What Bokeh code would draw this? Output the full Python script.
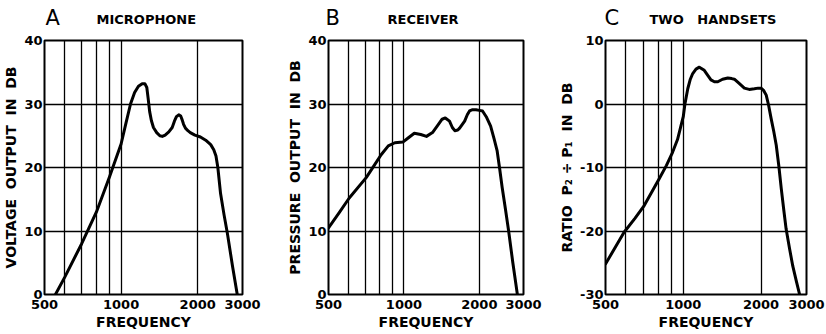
from bokeh.plotting import figure
from bokeh.layouts import row, column
from bokeh.models import FixedTicker, Range1d
from bokeh.core.properties import value
from bokeh.embed import file_html
from bokeh.resources import INLINE

# ---------------- data ----------------
freq_ticks = [500, 1000, 2000, 3000]
freq_grid = [600, 700, 800, 900, 1000, 2000]

freq_a = [552, 600, 700, 800, 900, 1000, 1045, 1089, 1130, 1170, 1210, 1240, 1262,
          1278, 1295, 1315, 1340, 1380, 1420, 1452, 1490, 1540, 1588, 1620, 1650,
          1685, 1715, 1738, 1760, 1790, 1830, 1870, 1950, 2050, 2150, 2250, 2313,
          2360, 2400, 2460, 2540, 2617, 2740, 2861]
db_a = [0, 2.7, 8.0, 13.0, 18.5, 23.7, 27.0, 30.0, 31.8, 32.8, 33.2, 33.2, 32.6,
        30.8, 28.8, 27.4, 26.3, 25.5, 25.0, 24.9, 25.1, 25.6, 26.3, 27.3, 28.0,
        28.3, 28.1, 27.5, 26.8, 26.2, 25.8, 25.5, 25.1, 24.8, 24.3, 23.6, 22.8,
        21.8, 20.0, 15.9, 12.5, 9.6, 4.5, 0]

freq_b = [500, 550, 605, 707, 760, 811, 866, 920, 990, 1036, 1100, 1167, 1230,
          1300, 1357, 1420, 1462, 1520, 1560, 1596, 1640, 1668, 1710, 1747, 1790,
          1827, 1880, 1939, 2000, 2059, 2130, 2218, 2290, 2355, 2410, 2467, 2540,
          2617, 2720, 2836]
db_b = [10.5, 12.8, 15.2, 18.4, 20.3, 22.0, 23.4, 23.9, 24.0, 24.6, 25.4, 25.2, 24.9,
        25.5, 26.5, 27.6, 27.8, 27.3, 26.3, 25.8, 25.9, 26.2, 26.8, 27.3, 28.3,
        28.9, 29.1, 29.1, 29.0, 28.9, 28.0, 26.5, 24.5, 22.6, 19.8, 16.8, 13.5,
        10.0, 5.0, 0]

freq_c = [500, 590, 650, 706, 806, 860, 909, 950, 979, 1000, 1015, 1041, 1065, 1088,
          1120, 1154, 1206, 1250, 1280, 1320, 1360, 1420, 1487, 1540, 1577, 1650,
          1724, 1800, 1885, 1950, 2000, 2050, 2095, 2140, 2189, 2240, 2291, 2345,
          2397, 2450, 2502, 2580, 2654, 2740, 2821]
db_c = [-25.2, -20.2, -18.0, -16.0, -11.8, -9.7, -7.6, -5.6, -3.5, -2.0, 0.0, 2.4, 3.9, 4.8,
        5.5, 5.8, 5.3, 4.4, 3.8, 3.5, 3.5, 3.9, 4.1, 4.0, 3.9, 3.2,
        2.5, 2.3, 2.4, 2.5, 2.5, 2.1, 1.4, -0.2, -2.3, -4.3, -6.5, -9.8,
        -13.4, -16.7, -19.7, -22.8, -25.5, -27.9, -30.0]

yticks_ab = [0, 10, 20, 30, 40]
yticks_c = [-30, -20, -10, 0, 10]

panel_letters = ["A", "B", "C"]
panel_titles = ["MICROPHONE", "RECEIVER", "TWO\u00a0\u00a0\u00a0HANDSETS"]

# ---------------- layout / style ----------------
FONT = "DejaVu Sans"
GAP = "\u00a0 "
W = 826
HEADER_H = 32
FRAME_TOP = 40
# header positions in page pixels (x left, y baseline from page top)
letter_pos = [(45, 17), (325, 17), (604, 17)]
title_pos = [(96, 19), (387, 19), (649, 19)]


def panel(freq, db, yticks, ylabel, width, bl, br):
    p = figure(width=width, height=334 - HEADER_H, x_axis_type="log",
               x_range=Range1d(freq_ticks[0], freq_ticks[-1]),
               y_range=Range1d(yticks[0], yticks[-1]),
               output_backend="svg", toolbar_location=None,
               min_border_left=bl, min_border_right=br,
               min_border_top=FRAME_TOP - HEADER_H, min_border_bottom=40)
    p.background_fill_color = "white"
    p.border_fill_color = "white"
    p.outline_line_color = "black"
    p.outline_line_width = 2
    p.outline_line_alpha = 1

    p.xgrid.ticker = FixedTicker(ticks=freq_grid)
    p.ygrid.ticker = FixedTicker(ticks=yticks[1:-1])
    for g in (p.xgrid, p.ygrid):
        g.grid_line_color = "black"
        g.grid_line_width = 1.3
        g.grid_line_alpha = 1

    p.xaxis.ticker = FixedTicker(ticks=freq_ticks)
    p.xaxis.major_label_overrides = {f: str(f) for f in freq_ticks}
    p.yaxis.ticker = FixedTicker(ticks=yticks)
    p.yaxis.major_label_overrides = {t: str(t) for t in yticks}
    for ax in (p.xaxis, p.yaxis):
        ax.axis_line_color = None
        ax.major_tick_line_color = None
        ax.minor_tick_line_color = None
        ax.major_tick_out = 0
        ax.major_tick_in = 0
        ax.minor_tick_out = 0
        ax.minor_tick_in = 0
        ax.major_label_text_font = FONT
        ax.major_label_text_font_style = "bold"
        ax.major_label_text_font_size = "13px"
        ax.major_label_text_color = "black"
        ax.axis_label_text_font = FONT
        ax.axis_label_text_font_style = "bold"
        ax.axis_label_text_font_size = "14px"
        ax.axis_label_text_color = "black"
    p.xaxis.major_label_standoff = 5
    p.xaxis.axis_label = "FREQUENCY"
    p.xaxis.axis_label_standoff = 2
    p.yaxis.major_label_standoff = 2
    p.yaxis.axis_label = ylabel
    p.yaxis.axis_label_standoff = 2

    p.line(freq, db, line_color="black", line_width=3, line_join="round", line_cap="round")
    return p


# header with panel letters and titles
hdr = figure(width=W, height=HEADER_H, x_range=Range1d(0, W), y_range=Range1d(0, HEADER_H),
             output_backend="svg", toolbar_location=None,
             x_axis_location=None, y_axis_location=None,
             min_border=0, outline_line_color=None)
hdr.grid.visible = False
hdr.background_fill_color = "white"
hdr.border_fill_color = "white"
hdr.text(x=[q[0] for q in letter_pos], y=[HEADER_H - q[1] for q in letter_pos],
         text=panel_letters, text_font=value(FONT), text_font_size="21px",
         text_color="black", text_baseline="alphabetic", text_align="left")
hdr.text(x=[q[0] for q in title_pos], y=[HEADER_H - q[1] for q in title_pos],
         text=panel_titles, text_font=value(FONT), text_font_size="13px",
         text_font_style="bold", text_color="black", text_baseline="alphabetic",
         text_align="left")

pa = panel(freq_a, db_a, yticks_ab, GAP.join(["VOLTAGE", "OUTPUT", "IN", "DB"]), 284, 44, 42)
pb = panel(freq_b, db_b, yticks_ab, GAP.join(["PRESSURE", "OUTPUT", "IN", "DB"]), 272, 39, 33)
pc = panel(freq_c, db_c, yticks_c, GAP.join(["RATIO", "P\u2082 \u00f7 P\u2081", "IN", "DB"]), 270, 49, 20)

layout = column(hdr, row(pa, pb, pc, spacing=0), spacing=0)
open("out.html", "w").write(file_html(layout, INLINE))
